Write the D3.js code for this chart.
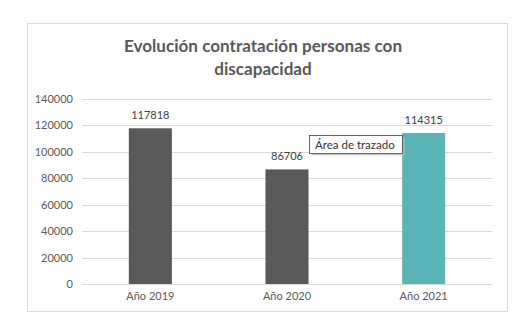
<!DOCTYPE html>
<html>
<head>
<meta charset="utf-8">
<script src="https://d3js.org/d3.v7.min.js"></script>
<style>
  body { margin: 0; background: #fff; }
  text { font-family: Lato, "Open Sans", sans-serif; }
</style>
</head>
<body>
<svg id="chart" width="532" height="336"></svg>
<script>
  // chart data
  const years = ["Año 2019", "Año 2020", "Año 2021"];
  const hires = [117818, 86706, 114315];
  const barColors = ["#595959", "#595959", "#5bb5b8"];
  const yTicks = [0, 20000, 40000, 60000, 80000, 100000, 120000, 140000];

  const svg = d3.select("#chart");
  const grey = "#595959";

  // outer frame
  svg.append("rect")
    .attr("x", 27.5).attr("y", 23.5)
    .attr("width", 480).attr("height", 288)
    .attr("fill", "#fff")
    .attr("stroke", "#d9d9d9");

  // title, two lines
  const title = svg.append("text")
    .attr("text-anchor", "middle")
    .attr("font-size", 17.1)
    .attr("font-weight", "bold")
    .attr("fill", grey);
  title.append("tspan").attr("x", 263).attr("y", 52).text("Evolución contratación personas con");
  title.append("tspan").attr("x", 263).attr("y", 75).text("discapacidad");

  const x = d3.scaleBand().domain(years).range([82, 492]).paddingInner(0.685).paddingOuter(0.3425);
  const y = d3.scaleLinear().domain([0, 140000]).range([284, 99]);

  // gridlines
  svg.append("g")
    .selectAll("line")
    .data(yTicks)
    .join("line")
    .attr("x1", 82).attr("x2", 492.5)
    .attr("y1", d => Math.round(y(d)) + 0.5)
    .attr("y2", d => Math.round(y(d)) + 0.5)
    .attr("stroke", "#d9d9d9");

  // y axis labels
  const yAxis = svg.append("g")
    .attr("transform", "translate(82,0)")
    .call(d3.axisLeft(y).tickValues(yTicks).tickSize(0).tickPadding(9).tickFormat(d3.format("d")));
  yAxis.select(".domain").remove();
  yAxis.selectAll("text").attr("fill", grey).attr("font-size", 11).attr("font-family", "Lato, sans-serif");

  // x axis labels
  const xAxis = svg.append("g")
    .attr("transform", "translate(0,284)")
    .call(d3.axisBottom(x).tickSize(0).tickPadding(8));
  xAxis.select(".domain").remove();
  xAxis.selectAll("text").attr("fill", grey).attr("font-size", 11).attr("font-family", "Lato, sans-serif");

  // bars
  svg.append("g")
    .selectAll("rect")
    .data(years)
    .join("rect")
    .attr("x", d => x(d))
    .attr("width", x.bandwidth())
    .attr("y", (d, i) => y(hires[i]))
    .attr("height", (d, i) => y(0) - y(hires[i]))
    .attr("fill", (d, i) => barColors[i]);

  // value labels
  svg.append("g")
    .selectAll("text")
    .data(years)
    .join("text")
    .attr("x", d => x(d) + x.bandwidth() / 2)
    .attr("y", (d, i) => y(hires[i]) - 9)
    .attr("text-anchor", "middle")
    .attr("font-size", 11)
    .attr("fill", "#404040")
    .text((d, i) => hires[i]);

  // hover tooltip box
  svg.append("rect")
    .attr("x", 311.5).attr("y", 137.5)
    .attr("width", 93).attr("height", 18)
    .attr("fill", "#bfbfbf").attr("opacity", 0.7);
  svg.append("rect")
    .attr("x", 309.5).attr("y", 135.5)
    .attr("width", 93).attr("height", 18)
    .attr("fill", "#fff").attr("stroke", "#404040").attr("stroke-width", 0.8);
  svg.append("text")
    .attr("x", 315).attr("y", 149)
    .attr("font-size", 11.5)
    .attr("fill", "#333")
    .text("Área de trazado");
</script>
</body>
</html>
